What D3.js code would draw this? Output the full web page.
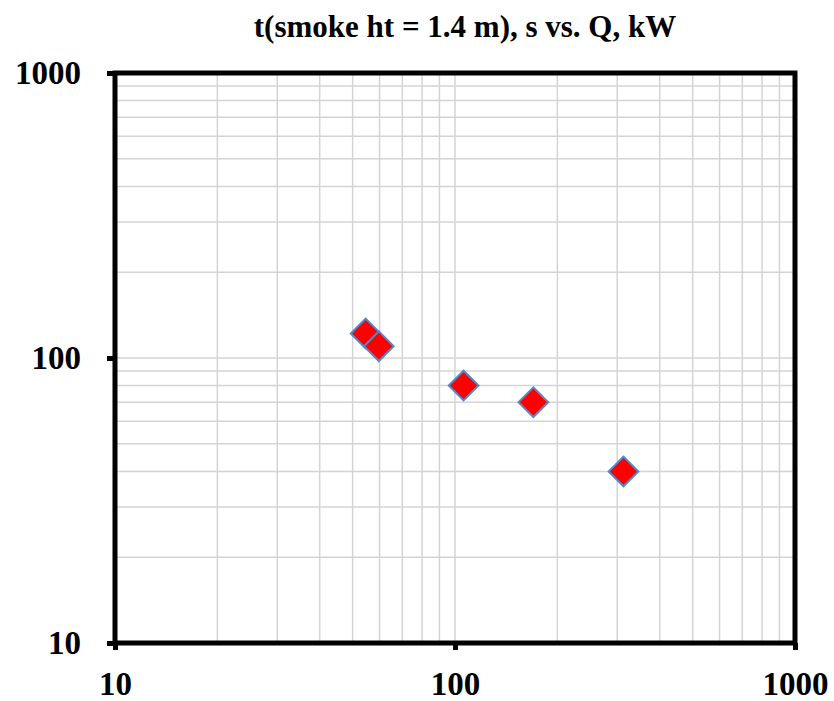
<!DOCTYPE html>
<html>
<head>
<meta charset="utf-8">
<script src="https://cdn.jsdelivr.net/npm/d3@7"></script>
<style>
html,body{margin:0;padding:0;background:#fff;}
svg{display:block;}
</style>
</head>
<body>
<svg id="chart" width="834" height="701"></svg>
<script>
const title = "t(smoke ht = 1.4 m), s vs. Q, kW";
const heatRelease = [54.6, 59.7, 106, 170, 313];
const smokeTime = [122, 110, 80, 70, 40];
const xTickValues = [10, 100, 1000];
const yTickValues = [10, 100, 1000];

const svg = d3.select("#chart");
const margin = {left: 115, right: 39, top: 73, bottom: 58};
const W = 834, H = 701;
const x = d3.scaleLog().domain([10, 1000]).range([margin.left, W - margin.right]);
const y = d3.scaleLog().domain([10, 1000]).range([H - margin.bottom, margin.top]);

const font = "'Liberation Serif', 'Times New Roman', serif";

// minor + major gridlines
const gridVals = [];
for (let d = 10; d < 1000; d *= 10) for (let k = 1; k <= 9; k++) gridVals.push(d * k);
const inner = gridVals.filter(v => v > 10 && v < 1000);

svg.append("g").selectAll("line").data(inner).join("line")
  .attr("x1", d => x(d)).attr("x2", d => x(d))
  .attr("y1", y(1000)).attr("y2", y(10))
  .attr("stroke", "#d4d4d4").attr("stroke-width", 1.5);
svg.append("g").selectAll("line").data(inner).join("line")
  .attr("y1", d => y(d)).attr("y2", d => y(d))
  .attr("x1", x(10)).attr("x2", x(1000))
  .attr("stroke", "#d4d4d4").attr("stroke-width", 1.5);

// axes with ticks
const xAxis = d3.axisBottom(x).tickValues(xTickValues).tickSize(7).tickPadding(22).tickFormat(d3.format("d"));
const yAxis = d3.axisLeft(y).tickValues(yTickValues).tickSize(8).tickPadding(26).tickFormat(d3.format("d"));

const gx = svg.append("g").attr("transform", `translate(0,${y(10)})`).call(xAxis);
const gy = svg.append("g").attr("transform", `translate(${x(10)},0)`).call(yAxis);
[gx, gy].forEach(g => {
  g.select(".domain").remove();
  g.selectAll(".tick line").attr("stroke", "#000").attr("stroke-width", 5);
  g.selectAll(".tick text").attr("fill", "#000").attr("font-family", font)
    .attr("font-weight", "bold").attr("font-size", 33);
});
gx.selectAll(".tick text").attr("dy", "0.71em");

// frame
svg.append("rect")
  .attr("x", x(10)).attr("y", y(1000))
  .attr("width", x(1000) - x(10)).attr("height", y(10) - y(1000))
  .attr("fill", "none").attr("stroke", "#000").attr("stroke-width", 5);

// points
svg.append("g").selectAll("path").data(heatRelease.map((q, i) => [q, smokeTime[i]])).join("path")
  .attr("transform", d => `translate(${x(d[0])},${y(d[1])}) rotate(45)`)
  .attr("d", d3.symbol().type(d3.symbolSquare).size(440))
  .attr("fill", "#ff0000").attr("stroke", "#5b86c5").attr("stroke-width", 2);

// title
svg.append("text").attr("x", 465).attr("y", 37)
  .attr("text-anchor", "middle").attr("font-family", font).attr("font-weight", "bold")
  .attr("font-size", 31).attr("fill", "#000").text(title);
</script>
</body>
</html>
